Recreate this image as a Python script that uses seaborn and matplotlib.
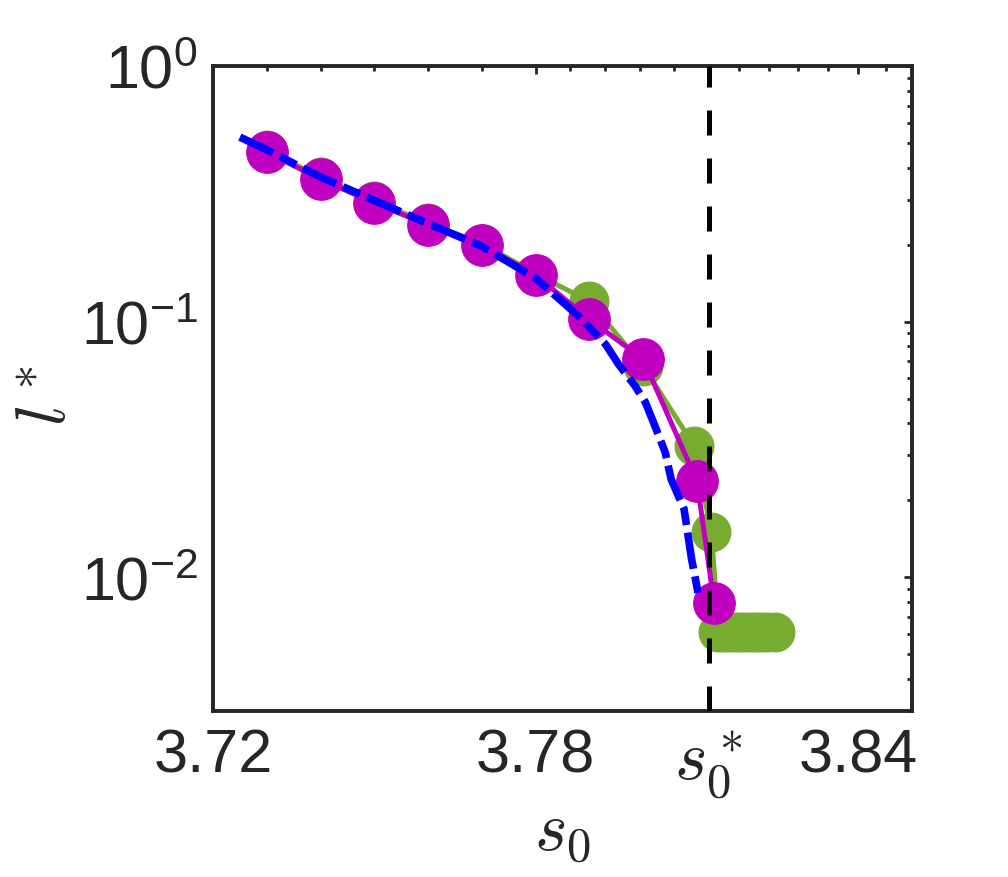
import numpy as np
import pandas as pd
import matplotlib
matplotlib.use("Agg")
import matplotlib.pyplot as plt
import seaborn as sns
from matplotlib.ticker import FixedLocator, FixedFormatter, LogLocator, NullFormatter

# ---- data ----
green_s0 = [3.73, 3.74, 3.75, 3.76, 3.77, 3.78, 3.79, 3.80, 3.8095, 3.8127,
            3.8140, 3.8150, 3.8160, 3.8170, 3.8180, 3.8190, 3.8200, 3.8210,
            3.8220, 3.8230, 3.8245]
green_l = [0.468, 0.367, 0.296, 0.243, 0.202, 0.154, 0.120, 0.067, 0.0326, 0.0150,
           0.0061, 0.0061, 0.0061, 0.0061, 0.0061, 0.0061, 0.0061, 0.0061,
           0.0061, 0.0061, 0.0061]

magenta_s0 = [3.73, 3.74, 3.75, 3.76, 3.77, 3.78, 3.79, 3.80, 3.8100, 3.8132]
magenta_l = [0.460, 0.361, 0.291, 0.239, 0.199, 0.152, 0.102, 0.0713, 0.0238, 0.0079]

blue_s0 = [3.725, 3.73, 3.74, 3.75, 3.76, 3.77, 3.78, 3.788, 3.793, 3.7954, 3.7985,
           3.8004, 3.8022, 3.8041, 3.8052, 3.8076, 3.809, 3.8102]
blue_l = [0.527, 0.47, 0.368, 0.298, 0.242, 0.197, 0.148, 0.105, 0.0816, 0.0682, 0.056,
          0.0484, 0.039, 0.0308, 0.0242, 0.0185, 0.0118, 0.0087]

s0_star = 3.8122
xtick_vals = [3.72, 3.78, s0_star, 3.84]
xtick_labels = ["3.72", "3.78", r"$s_0^*$", "3.84"]
ytick_vals = [1e-2, 1e-1, 1e0]
ytick_labels = [r"$\mathregular{10^{-2}}$", r"$\mathregular{10^{-1}}$", r"$\mathregular{10^{0}}$"]

# ---- style ----
sns.set_theme(style="white")
plt.rcParams["font.family"] = ["Liberation Sans", "DejaVu Sans"]
plt.rcParams["mathtext.fontset"] = "cm"

fig = plt.figure(figsize=(10.08, 8.78), dpi=100)
ax = fig.add_axes([0.2113, 0.1891, 0.9048 - 0.2113, 0.9237 - 0.1891])

green_df = pd.DataFrame({"s0": green_s0, "l": green_l})
mag_df = pd.DataFrame({"s0": magenta_s0, "l": magenta_l})
blue_df = pd.DataFrame({"s0": blue_s0, "l": blue_l})

sns.lineplot(data=green_df, x="s0", y="l", ax=ax, sort=False, estimator=None,
             color="#77AC30", lw=3.6, marker="o", markersize=28,
             markeredgecolor="#77AC30", zorder=2)
sns.lineplot(data=mag_df, x="s0", y="l", ax=ax, sort=False, estimator=None,
             color="#BF00BF", lw=3.6, marker="o", markersize=30,
             markeredgecolor="#BF00BF", zorder=3)
sns.lineplot(data=blue_df, x="s0", y="l", ax=ax, sort=False, estimator=None,
             color="#0000FF", lw=5.5, zorder=4)
ax.lines[-1].set_dashes([4.8, 1.0, 2.4, 1.0])
ax.lines[-1].set_dash_capstyle("butt")

ax.axvline(s0_star, color="black", lw=3.6, dashes=(5, 4.6), zorder=5)

ax.set_yscale("log")
ax.set_xlim(3.72, 3.85)
ax.set_ylim(0.003, 1.0)

ax.xaxis.set_major_locator(FixedLocator(xtick_vals))
ax.xaxis.set_major_formatter(FixedFormatter(xtick_labels))
minor_x = [3.73, 3.74, 3.75, 3.76, 3.77]
minor_x += list(np.linspace(3.78, s0_star, 6)[1:-1])
minor_x += list(np.linspace(s0_star, 3.84, 6)[1:-1])
minor_x += [3.8452]
ax.xaxis.set_minor_locator(FixedLocator(minor_x))

ax.yaxis.set_major_locator(FixedLocator(ytick_vals))
ax.yaxis.set_major_formatter(FixedFormatter(ytick_labels))
ax.yaxis.set_minor_locator(LogLocator(base=10, subs=np.arange(2, 10)))
ax.yaxis.set_minor_formatter(NullFormatter())

tc = "#262626"
ax.tick_params(which="both", direction="in", top=True, right=True,
               color=tc, labelcolor=tc, width=2.0)
ax.tick_params(which="major", length=6, labelsize=44)
ax.tick_params(axis="x", which="major", pad=12)
ax.tick_params(axis="y", which="major", pad=11)
ax.tick_params(which="minor", length=3.5)
for sp in ax.spines.values():
    sp.set_linewidth(2.8)
    sp.set_color(tc)

fig.canvas.draw()
for lab in ax.get_xticklabels():
    if "s_0" in lab.get_text():
        lab.set_fontsize(50)

ax.set_xlabel(r"$s_0$", fontsize=50, color=tc, labelpad=0)
ax.set_ylabel(r"$l^*$", fontsize=50, color=tc)
ax.yaxis.set_label_coords(-0.19, 0.49)

fig.savefig("out.png", dpi=100)
